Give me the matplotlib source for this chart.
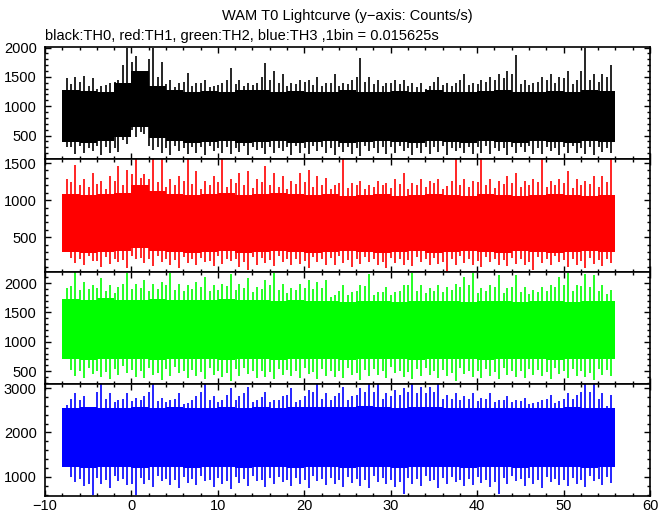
import numpy as np
import matplotlib.pyplot as plt
from matplotlib.ticker import MultipleLocator

plt.rcParams['font.family'] = ['Liberation Sans', 'DejaVu Sans']

# time range of the light curve (s), 1 s bins for the spikes, 2 s blocks for the dense band
t_first, t_last = -8, 56
sec = np.arange(t_first, t_last)
blk = np.arange(t_first, t_last, 2)

# TH0 (black): highest / lowest spike per second, second spike per second,
# dense band per 2 s block
th0_max = [1480, 1490, 1520, 1480, 1350, 1400, 1450, 2000,
           1850, 1550, 2000, 1750, 1450, 1400, 1560, 1400,
           1450, 1350, 1400, 1650, 1450, 1400, 1400, 1730,
           1600, 1550, 1400, 1450, 1450, 1500, 1400, 1550,
           1400, 1450, 1820, 1500, 1450, 1400, 1450, 1450,
           1400, 1400, 1350, 1500, 1400, 1400, 1550, 1400,
           1450, 1500, 1550, 1600, 1880, 1450, 1400, 1500,
           1550, 1500, 1600, 1450, 2000, 1550, 1550, 1700]
th0_min = [300, 180, 200, 230, 170, 200, 220, 350,
           480, 520, 250, 200, 170, 230, 190, 210,
           160, 240, 200, 180, 220, 170, 250, 190,
           200, 230, 160, 210, 180, 240, 200, 170,
           220, 190, 150, 230, 200, 180, 210, 240,
           170, 200, 190, 220, 160, 230, 200, 180,
           210, 190, 240, 170, 200, 220, 180, 190,
           230, 160, 200, 210, 180, 170, 220, 200]
th0_max2 = [850, 1380, 1420, 1350, 1300, 1360, 1420, 1700,
            1750, 1500, 1800, 1500, 1380, 1330, 1420, 1350,
            1400, 1320, 1360, 1450, 1380, 1340, 1360, 1500,
            1450, 1400, 1350, 1380, 1420, 1360, 1340, 1400,
            1350, 1380, 1500, 1420, 1380, 1340, 1400, 1380,
            1350, 1330, 1300, 1420, 1360, 1340, 1450, 1360,
            1380, 1420, 1450, 1480, 1550, 1380, 1360, 1420,
            1450, 1400, 1480, 1380, 1600, 1450, 1420, 1500]
th0_min2 = [600, 300, 320, 280, 330, 300, 290, 420,
            600, 560, 320, 300, 280, 320, 290, 310,
            300, 330, 290, 310, 280, 320, 300, 290,
            310, 280, 300, 320, 290, 330, 300, 280,
            310, 300, 280, 320, 290, 310, 300, 330,
            290, 280, 310, 300, 320, 290, 280, 310,
            300, 320, 290, 280, 310, 300, 330, 290,
            310, 280, 300, 320, 290, 310, 300, 280]
th0_band_hi = [1270, 1260, 1250, 1400, 1600, 1350, 1270, 1250,
               1260, 1240, 1270, 1280, 1250, 1260, 1240, 1250,
               1270, 1250, 1240, 1260, 1250, 1280, 1250, 1240,
               1260, 1270, 1250, 1240, 1260, 1250, 1270, 1260]
th0_band_lo = [390, 380, 400, 480, 650, 450, 400, 380,
               390, 400, 380, 390, 400, 380, 390, 400,
               380, 390, 400, 390, 380, 400, 390, 380,
               400, 390, 380, 400, 390, 380, 400, 390]

# TH1 (red)
th1_max = [1280, 1480, 1280, 1370, 1260, 1320, 1460, 1410,
           1550, 1350, 1550, 1550, 1280, 1320, 1550, 1390,
           1260, 1320, 1550, 1280, 1370, 1390, 1280, 1460,
           1370, 1320, 1260, 1370, 1410, 1320, 1300, 1210,
           1550, 1230, 1260, 1210, 1260, 1230, 1280, 1370,
           1230, 1280, 1260, 1280, 1190, 1550, 1280, 1260,
           1550, 1280, 1260, 1320, 1370, 1260, 1280, 1550,
           1260, 1280, 1390, 1280, 1260, 1320, 1320, 1550]
th1_min = [330, 150, 120, 180, 100, 140, 160, 90,
           200, 150, 110, 170, 130, 90, 150, 120,
           160, 110, 140, 180, 100, 60, 130, 150,
           110, 170, 120, 140, 90, 160, 120, 130,
           150, 100, 140, 170, 120, 80, 150, 130,
           110, 160, 120, 140, 50, 130, 150, 120,
           100, 160, 130, 110, 140, 120, 60, 150,
           130, 170, 100, 120, 80, 140, 110, 150]
th1_max2 = [580, 1250, 1200, 1180, 1220, 1150, 1260, 1200,
            1350, 1300, 1280, 1250, 1180, 1200, 1260, 1220,
            1150, 1200, 1250, 1180, 1230, 1200, 1160, 1250,
            1200, 1180, 1150, 1220, 1250, 1180, 1200, 1150,
            1230, 1160, 1200, 1150, 1180, 1200, 1160, 1220,
            1150, 1200, 1180, 1230, 1150, 1260, 1200, 1180,
            1250, 1200, 1160, 1220, 1230, 1180, 1200, 1250,
            1180, 1200, 1230, 1160, 1200, 1220, 1180, 1250]
th1_min2 = [330, 220, 200, 250, 180, 230, 210, 190,
            250, 220, 200, 240, 210, 190, 230, 200,
            220, 180, 240, 210, 200, 160, 230, 220,
            190, 240, 200, 210, 180, 230, 200, 220,
            240, 190, 210, 230, 200, 170, 220, 210,
            190, 230, 200, 220, 160, 210, 240, 200,
            180, 230, 210, 190, 220, 200, 170, 230,
            210, 240, 190, 200, 180, 220, 190, 210]
th1_band_hi = [1080, 1070, 1080, 1100, 1200, 1120, 1080, 1070,
               1080, 1090, 1070, 1080, 1090, 1080, 1070, 1080,
               1060, 1070, 1080, 1060, 1070, 1080, 1070, 1060,
               1080, 1070, 1060, 1070, 1080, 1070, 1060, 1070]
th1_band_lo = [300, 290, 300, 320, 360, 310, 300, 290,
               300, 310, 290, 300, 310, 300, 290, 300,
               310, 300, 290, 300, 310, 290, 300, 310,
               300, 290, 310, 300, 290, 300, 310, 300]

# TH2 (green)
th2_max = [1910, 2190, 2020, 1970, 2080, 1970, 1940, 2180,
           1990, 2050, 1990, 2020, 2180, 1990, 1970, 2020,
           2110, 1970, 1990, 2160, 1990, 2080, 1940, 2050,
           2180, 1990, 1910, 1990, 2050, 2020, 2050, 1800,
           1970, 1850, 1970, 2160, 1850, 1940, 1850, 1970,
           2180, 1970, 1910, 1970, 1940, 1990, 2110, 2180,
           1910, 1970, 2140, 1910, 2140, 1940, 1880, 1940,
           1970, 2110, 2180, 1970, 2160, 2140, 1970, 1880]
th2_min = [880, 420, 380, 450, 400, 360, 430, 470,
           400, 380, 440, 350, 420, 460, 390, 410,
           370, 440, 400, 330, 420, 450, 380, 400,
           360, 430, 410, 390, 450, 370, 420, 400,
           380, 440, 350, 410, 430, 390, 460, 400,
           370, 420, 440, 380, 410, 330, 450, 400,
           390, 420, 360, 440, 400, 380, 430, 410,
           370, 450, 390, 420, 400, 340, 430, 410]
th2_max2 = [1150, 1950, 1880, 1900, 1920, 1860, 1840, 1980,
            1900, 1920, 1870, 1900, 1960, 1880, 1860, 1900,
            1940, 1870, 1880, 1950, 1880, 1920, 1850, 1900,
            1960, 1880, 1840, 1880, 1920, 1900, 1920, 1760,
            1860, 1800, 1860, 1950, 1800, 1850, 1800, 1870,
            1960, 1870, 1830, 1870, 1850, 1880, 1930, 1960,
            1830, 1870, 1940, 1830, 1940, 1850, 1820, 1850,
            1870, 1930, 1960, 1870, 1950, 1940, 1870, 1820]
th2_min2 = [890, 520, 500, 560, 510, 480, 540, 580,
            520, 500, 550, 470, 530, 570, 500, 520,
            490, 550, 510, 460, 530, 560, 500, 510,
            480, 540, 520, 500, 560, 490, 530, 510,
            500, 550, 470, 520, 540, 500, 570, 510,
            490, 530, 550, 500, 520, 460, 560, 510,
            500, 530, 480, 550, 510, 500, 540, 520,
            490, 560, 500, 530, 510, 470, 540, 520]
th2_band_hi = [1730, 1720, 1740, 1720, 1710, 1730, 1720, 1710,
               1720, 1730, 1710, 1720, 1700, 1710, 1690, 1700,
               1680, 1690, 1700, 1680, 1690, 1700, 1690, 1680,
               1700, 1690, 1680, 1700, 1690, 1680, 1700, 1690]
th2_band_lo = [700, 690, 700, 710, 700, 690, 700, 710,
               700, 690, 700, 710, 690, 700, 710, 700,
               690, 700, 710, 700, 690, 700, 710, 700,
               690, 700, 710, 700, 690, 700, 710, 700]

# TH3 (blue)
th3_max = [2620, 2880, 2810, 2500, 3100, 2880, 2730, 2880,
           2770, 2810, 3100, 2770, 2730, 2880, 2660, 2810,
           3100, 2810, 2730, 3000, 2810, 3030, 2730, 2920,
           2730, 2810, 3000, 2730, 2960, 3100, 2880, 2810,
           3030, 2810, 3000, 3100, 3100, 2880, 2960, 3000,
           3100, 3030, 3030, 3100, 2850, 2880, 2810, 2880,
           2770, 2880, 2730, 2810, 2730, 2770, 2660, 2730,
           2850, 2700, 2880, 2850, 3100, 3100, 2880, 2850]
th3_min = [1380, 880, 800, 590, 850, 760, 900, 820,
           590, 840, 780, 900, 820, 760, 870, 810,
           900, 780, 840, 720, 860, 800, 900, 770,
           830, 880, 790, 850, 760, 900, 810, 840,
           780, 870, 800, 760, 890, 830, 780, 620,
           850, 800, 900, 760, 840, 880, 790, 820,
           860, 780, 620, 830, 900, 800, 850, 760,
           880, 810, 790, 850, 770, 900, 820, 860]
th3_max2 = [1650, 2750, 2720, 2450, 2900, 2760, 2680, 2760,
            2700, 2740, 2900, 2700, 2680, 2760, 2640, 2740,
            2900, 2740, 2680, 2850, 2740, 2880, 2680, 2800,
            2680, 2740, 2850, 2680, 2820, 2900, 2760, 2740,
            2880, 2740, 2850, 2920, 2900, 2760, 2820, 2850,
            2900, 2880, 2880, 2900, 2760, 2760, 2740, 2760,
            2700, 2760, 2680, 2740, 2680, 2700, 2640, 2680,
            2760, 2660, 2760, 2760, 2900, 2900, 2760, 2600]
th3_min2 = [1390, 1000, 950, 850, 980, 920, 1020, 960,
            850, 980, 940, 1020, 960, 920, 1000, 950,
            1020, 940, 980, 900, 990, 950, 1020, 930,
            970, 1000, 940, 980, 920, 1020, 950, 980,
            940, 1000, 950, 920, 1010, 970, 940, 880,
            980, 950, 1020, 920, 980, 1000, 940, 960,
            990, 940, 880, 970, 1020, 950, 980, 920,
            1000, 960, 940, 980, 930, 1020, 960, 990]
th3_band_hi = [2560, 2570, 2550, 2560, 2580, 2560, 2570, 2560,
               2550, 2570, 2560, 2580, 2560, 2570, 2580, 2570,
               2580, 2590, 2570, 2560, 2580, 2570, 2560, 2550,
               2560, 2540, 2550, 2560, 2550, 2570, 2560, 2550]
th3_band_lo = [1220, 1210, 1230, 1220, 1210, 1230, 1220, 1210,
               1230, 1220, 1210, 1230, 1220, 1210, 1220, 1230,
               1210, 1220, 1230, 1210, 1220, 1230, 1220, 1210,
               1230, 1220, 1210, 1220, 1230, 1220, 1210, 1220]

panels = [
    (th0_max, th0_min, th0_max2, th0_min2, th0_band_hi, th0_band_lo, 'black', (100, 2010), 500, 100),
    (th1_max, th1_min, th1_max2, th1_min2, th1_band_hi, th1_band_lo, '#ff0000', (30, 1555), 500, 100),
    (th2_max, th2_min, th2_max2, th2_min2, th2_band_hi, th2_band_lo, '#00ff00', (280, 2190), 500, 100),
    (th3_max, th3_min, th3_max2, th3_min2, th3_band_hi, th3_band_lo, '#0000ff', (570, 3090), 1000, 200),
]

fig = plt.figure(figsize=(6.72, 5.15), dpi=100)

left, width = 45 / 672, 605 / 672
tops = [47, 159, 272, 384, 496]

for i, (pmax, pmin, pmax2, pmin2, bhi, blo, col, ylim, major, minor) in enumerate(panels):
    y0 = 1 - tops[i + 1] / 515
    h = (tops[i + 1] - tops[i]) / 515
    ax = fig.add_axes([left, y0, width, h])

    edges = np.append(blk, t_last)
    ax.fill_between(edges, np.append(blo, blo[-1]), np.append(bhi, bhi[-1]),
                    step='post', color=col, lw=0)
    ax.vlines(sec + 0.5, pmin, pmax, color=col, lw=1.2)
    ax.vlines(sec + 0.05, pmin2, pmax2, color=col, lw=1.2)

    ax.set_xlim(-10, 60)
    ax.set_ylim(*ylim)
    ax.xaxis.set_major_locator(MultipleLocator(10))
    ax.xaxis.set_minor_locator(MultipleLocator(2))
    ax.yaxis.set_major_locator(MultipleLocator(major))
    ax.yaxis.set_minor_locator(MultipleLocator(minor))
    ax.tick_params(which='both', direction='in', top=True, right=True,
                   width=1, labelsize=10.5, colors='black')
    ax.tick_params(which='major', length=4.5)
    ax.tick_params(which='minor', length=2.3)
    ax.tick_params(axis='y', pad=6)
    ax.tick_params(axis='x', pad=2.5)
    if i < 3:
        ax.tick_params(labelbottom=False)
    for s in ax.spines.values():
        s.set_linewidth(1.2)

fig.text(0.517, 1 - 20 / 515, 'WAM T0 Lightcurve (y\u2212axis: Counts/s)',
         ha='center', va='baseline', fontsize=10.5)
fig.text(left, 1 - 40 / 515, 'black:TH0, red:TH1, green:TH2, blue:TH3 ,1bin = 0.015625s',
         ha='left', va='baseline', fontsize=10.5)

fig.savefig('out.png', dpi=100)
